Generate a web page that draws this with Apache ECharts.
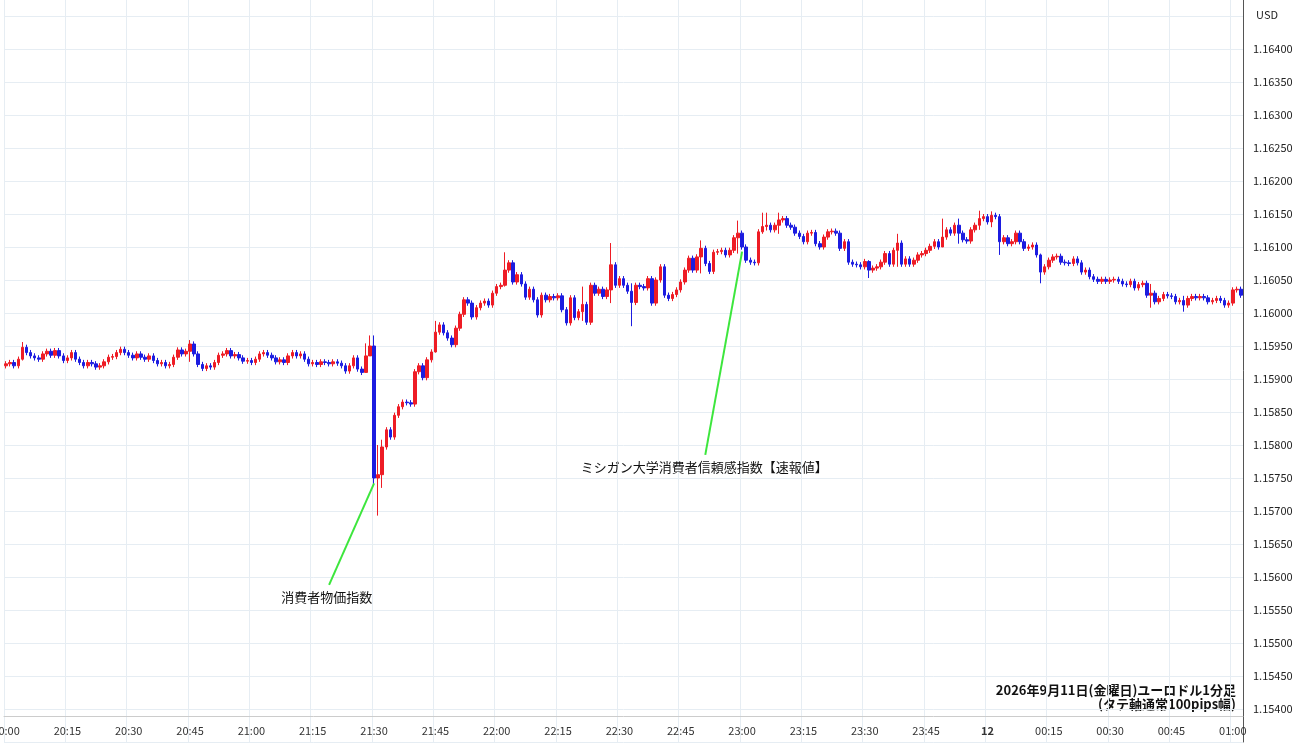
<!DOCTYPE html>
<html>
<head>
<meta charset="utf-8">
<script src="https://cdn.jsdelivr.net/npm/echarts@6/dist/echarts.min.js"></script>
<style>
html, body { margin: 0; padding: 0; background: #fff; }
#main { width: 1300px; height: 745px; }
</style>
</head>
<body>
<div id="main"></div>
<script>
// 終値 (1.15 からの pips)
var closes = [
    92.3, 92.5, 92.0, 93.0, 94.8, 94.0, 93.5, 93.2, 93.0, 93.8, 94.2, 93.6, 94.3, 93.5, 92.8,
    93.2, 94.0, 93.0, 92.5, 92.0, 92.5, 92.3, 91.8, 92.0, 92.6, 93.3, 93.4, 94.0, 94.5, 94.0,
    93.6, 93.2, 93.8, 93.3, 93.0, 93.5, 92.8, 92.3, 92.5, 92.0, 92.2, 93.3, 94.4, 93.8, 94.2,
    95.3, 93.8, 92.2, 91.6, 92.0, 91.8, 92.5, 93.6, 93.8, 94.3, 93.5, 93.7, 93.2, 92.7, 92.8,
    92.5, 93.0, 93.8, 94.0, 93.6, 93.2, 92.6, 92.9, 92.5, 93.5, 94.0, 93.5, 93.8, 93.0, 92.3,
    92.5, 92.2, 92.6, 92.5, 92.3, 92.6, 92.4, 92.0, 91.2, 92.0, 93.2, 91.5, 91.0, 93.5, 95.0,
    75.0, 75.5, 79.7, 82.3, 81.2, 84.5, 85.8, 86.5, 86.4, 86.2, 91.1, 92.0, 90.2, 92.9, 94.1,
    97.1, 98.2, 97.0, 96.2, 95.2, 97.7, 99.8, 102.0, 101.5, 99.4, 100.8, 101.5, 101.8, 101.2, 103.0,
    104.0, 104.2, 106.5, 107.6, 104.7, 105.8, 104.4, 102.4, 103.6, 102.0,
    99.7, 102.7, 102.0, 102.5, 102.3, 102.6, 100.5, 98.5, 102.3, 99.3, 100.2, 101.3, 98.6, 104.2, 103.0,
    103.6, 102.5, 103.5, 107.3, 104.2, 105.2, 104.2, 103.3, 101.6, 104.2, 104.0, 103.8, 105.2, 101.5, 105.0,
    107.0, 102.7, 102.2, 102.8, 103.5, 104.7, 106.5, 108.3, 106.5, 108.5, 109.8, 107.5, 106.3, 109.2, 109.3,
    109.5, 108.8, 109.5, 111.4, 112.1, 110.0, 108.0,
    107.7, 107.6, 112.3, 113.1, 113.3, 112.6, 113.3, 114.1, 114.3, 113.3, 113.0, 112.1, 111.6, 110.8, 112.1,
    112.2, 110.5, 110.0, 111.5, 112.3, 112.4, 112.1, 109.8, 110.8, 107.7, 107.4, 107.3, 107.0, 107.8, 106.5,
    106.8, 107.0, 107.7, 109.0, 107.4, 109.5, 110.6, 107.4, 108.2, 107.4, 108.0, 108.8, 109.0, 109.5, 110.1,
    110.8, 110.0, 111.5, 112.6, 112.1, 113.3, 112.1, 111.1, 110.9, 112.6, 113.3, 114.3, 114.6, 113.8,
    114.8, 114.6, 110.8, 111.4, 110.5, 110.8, 112.1, 110.8, 109.8, 110.0, 110.3, 108.8, 106.2, 107.0, 108.0,
    108.5, 108.6, 107.7, 107.6, 107.5, 108.2, 107.6, 106.2, 106.5, 105.5, 105.1, 104.8, 105.1, 104.8, 105.0,
    105.1, 104.8, 104.4, 104.3, 104.8, 103.8, 104.3, 104.5, 102.7, 103.0, 101.7, 102.2, 102.8, 102.6, 102.5,
    101.7, 101.9, 101.2, 102.2, 102.5, 102.3, 102.5, 102.3, 101.7, 101.9, 102.2, 101.9, 101.2, 101.5, 103.5,
    103.6, 102.7
];
var firstOpen = 92.0;
// 目立つヒゲ [index, 高値, 安値]
var wicks = [
    [4, 95.6, 92.8], [45, 95.9, 92.6], [88, 95.4, 91.0], [89, 96.6, 93.5], [90, 96.6, 74.0], [91, 80.0, 69.3],
    [92, 80.8, 73.5], [105, 98.8, 94.0], [122, 109.2, 104.0], [141, 104.0, 98.8], [148, 110.6, 101.5],
    [153, 104.5, 98.0], [170, 111.0, 106.0], [179, 114.0, 109.0], [185, 115.2, 112.0], [186, 115.2, 112.5],
    [189, 115.2, 112.0], [211, 108.0, 105.3], [218, 112.0, 107.0], [229, 114.3, 110.5], [233, 114.3, 110.5],
    [238, 115.5, 112.6], [241, 115.4, 113.0], [243, 115.0, 108.8], [253, 109.0, 104.5], [280, 104.4, 100.8],
    [288, 102.6, 100.2]
];
var tickTimes = ['20:00', '20:15', '20:30', '20:45', '21:00', '21:15', '21:30', '21:45', '22:00', '22:15',
    '22:30', '22:45', '23:00', '23:15', '23:30', '23:45', '12', '00:15', '00:30', '00:45', '01:00'];

function px(p) { return +(1.15 + p / 10000).toFixed(5); }

var cats = [], ohlc = [];
var wmap = {};
wicks.forEach(function (w) { wmap[w[0]] = w; });
for (var i = 0; i < closes.length; i++) {
    cats.push(i % 15 === 0 ? tickTimes[i / 15] : '');
    var o = i === 0 ? firstOpen : closes[i - 1];
    var c = closes[i];
    var h = Math.max(o, c) + 0.4, l = Math.min(o, c) - 0.4;
    if (wmap[i]) { h = wmap[i][1]; l = wmap[i][2]; }
    ohlc.push([px(o), px(c), px(l), px(h)]);
}
while (cats.length < 303) cats.push('');
cats[300] = '01:00';

var chart = echarts.init(document.getElementById('main'));
var font = 'Noto Sans CJK JP';
chart.setOption({
    animation: false,
    grid: { left: 4, right: 57, top: -17, bottom: 3, outerBoundsMode: 'none', containLabel: false },
    xAxis: {
        type: 'category',
        data: cats,
        offset: -26,
        axisLine: { show: true, lineStyle: { color: '#ccc' } },
        axisTick: { show: false },
        axisLabel: {
            interval: function (idx) { return idx % 15 === 0; },
            color: '#333', fontSize: 11, fontFamily: font, margin: 9,
            formatter: function (v) { return v === '12' ? '{b|12}' : v; },
            rich: { b: { fontWeight: 'bold', fontSize: 11, color: '#333' } }
        },
        splitLine: { show: true, interval: function (idx) { return idx % 15 === 0; }, lineStyle: { color: '#e6edf3' } }
    },
    yAxis: {
        type: 'value', position: 'right',
        min: 1.1535, max: 1.165, interval: 0.0005,
        axisLine: { show: true, lineStyle: { color: '#555' } },
        axisTick: { show: false },
        axisLabel: {
            color: '#222', fontSize: 11, fontFamily: font, margin: 10,
            formatter: function (v) { return (v < 1.15385 || v > 1.1642) ? '' : v.toFixed(5); }
        },
        splitLine: { lineStyle: { color: '#e6edf3' } }
    },
    series: [{
        type: 'candlestick',
        data: ohlc,
        barWidth: 3,
        itemStyle: { color: '#ee1c25', color0: '#1c1ce0', borderColor: '#ee1c25', borderColor0: '#1c1ce0', borderWidth: 1 },
        markLine: {
            symbol: 'none', silent: true,
            lineStyle: { color: '#3de63d', width: 2, type: 'solid' },
            label: { position: 'end', color: '#111', fontSize: 13, fontFamily: font, distance: 6 },
            data: [
                [{ coord: [90, px(74.2)] }, { coord: [79, px(58.8)], label: { formatter: '消費者物価指数' } }],
                [{ coord: [180, px(109.3)] }, { coord: [171, px(78.5)], label: { formatter: 'ミシガン大学消費者信頼感指数【速報値】' } }]
            ]
        }
    }],
    graphic: [
        { type: 'text', right: 22, top: 9, style: { text: 'USD', fontSize: 11, fill: '#222', fontFamily: font } },
        { type: 'text', right: 64, top: 684, style: { text: '2026年9月11日(金曜日)ユーロドル1分足', fontSize: 13, fontWeight: 'bold', fill: '#111', fontFamily: font, align: 'right' } },
        { type: 'text', right: 64, top: 698, style: { text: '(タテ軸通常100pips幅)', fontSize: 13, fontWeight: 'bold', fill: '#111', fontFamily: font, align: 'right' } }
    ]
});
</script>
</body>
</html>
